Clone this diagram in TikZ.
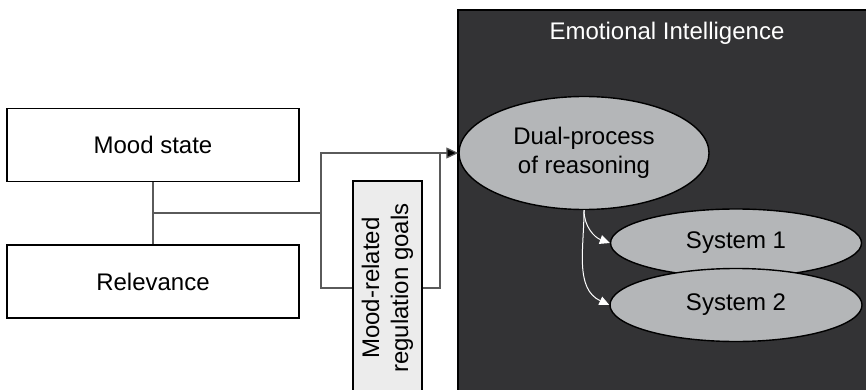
\documentclass[tikz,border=0pt]{standalone}
\usepackage{fontspec}
\setmainfont{Liberation Sans}
\usetikzlibrary{arrows.meta,shapes,positioning}

\definecolor{panel}{HTML}{333335}
\definecolor{oval}{HTML}{B4B6B8}
\definecolor{goalfill}{HTML}{ECECEC}
\definecolor{wire}{HTML}{5A5A5A}

\tikzset{
  factor/.style={draw, line width=0.8pt, minimum width=146pt, minimum height=36.5pt, inner sep=0pt},
  process/.style={ellipse, draw, line width=0.7pt, fill=oval, inner sep=0pt},
  wire/.style={draw=wire, line width=0.6pt},
  goalbox/.style={draw, line width=0.8pt, fill=goalfill, align=center, minimum width=107pt, minimum height=34.5pt, inner sep=0pt},
  flow/.style={white, line width=0.5pt, -{Triangle[length=5pt,width=4.5pt,fill=white]}}
}

\begin{document}
\begin{tikzpicture}[x=0.5pt,y=-0.5pt, font=\fontsize{12}{14.5}\selectfont]
\useasboundingbox (0,0) rectangle (866,390);

\fill [panel] (458,10) rectangle (866,390);
\draw [line width=0.8pt] (866,10) -- (458,10) -- (458,390);
\node [white] (ei) at (667,33) {Emotional Intelligence};

\node [factor] (mood) at (153,145) {Mood state};
\node [factor] (rel) at (153,281.5) {Relevance};

\coordinate (join) at (153,213);
\coordinate (lefttop) at (321,153);
\coordinate (leftbot) at (321,288);
\coordinate (rightbot) at (440,288);
\coordinate (righttop) at (440,153);

\draw [wire] (mood.south) -- (rel.north);
\draw [wire] (join) -- (join -| lefttop);
\draw [wire] (lefttop) -- (leftbot) -- (rightbot) -- (righttop) -- cycle;

\node [goalbox, rotate=90] (goals) at (387.5,288) {Mood-related\\regulation goals};

\node [process, minimum width=125pt, minimum height=56.5pt, align=center] (dual) at (584,153) {Dual-process\\of reasoning};
\node [process, minimum width=125.5pt, minimum height=34pt] (sys1) at (736,243) {System 1};
\node [process, minimum width=126pt, minimum height=36.5pt] (sys2) at (736,305) {System 2};

\draw [wire, -{Triangle[length=6pt,width=5.5pt,fill=black]}] (righttop) -- (dual.west);

\draw [flow] (dual.south) to [out=-90,in=160] (sys1.west);
\draw [flow] (dual.south) to [out=-90,in=155] (sys2.west);
\end{tikzpicture}
\end{document}
